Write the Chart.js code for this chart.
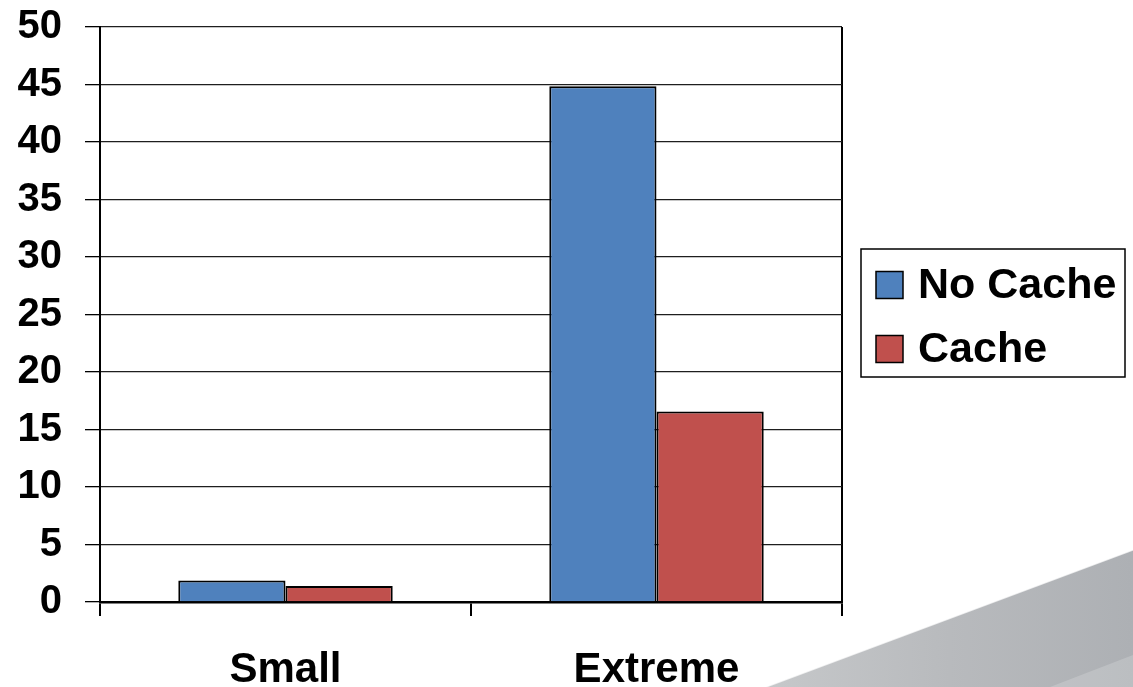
<!DOCTYPE html>
<html>
<head>
<meta charset="utf-8">
<script src="https://cdn.jsdelivr.net/npm/chart.js@4/dist/chart.umd.min.js"></script>
<style>
  html, body { margin: 0; padding: 0; background: #fff; }
  #wrap { width: 1133px; height: 687px; position: relative; }
  canvas { display: block; }
</style>
</head>
<body>
<div id="wrap"><canvas id="c" width="1133" height="687"></canvas></div>
<script>
// Workload sizes along the x axis
const categories = ['Small', 'Extreme'];
// Run times for each series
const noCacheValues = [1.86, 44.85];
const cacheValues = [1.39, 16.56];
const seriesNames = ['No Cache', 'Cache'];
// Value axis ticks
const yTickMin = 0;
const yTickMax = 50;
const yTickStep = 5;

const FONT = "'Liberation Sans', Arial, Helvetica, sans-serif";

// Grey slanted panel in the lower-right corner of the slide
const cornerPanel = {
  id: 'cornerPanel',
  beforeDraw(chart) {
    const ctx = chart.ctx;
    const w = chart.width, h = chart.height;
    ctx.save();
    const g = ctx.createLinearGradient(766, 0, w, 0);
    g.addColorStop(0, '#c6c8ca');
    g.addColorStop(0.5, '#b8babd');
    g.addColorStop(1, '#adb0b4');
    ctx.fillStyle = g;
    ctx.beginPath();
    ctx.moveTo(766, h);
    ctx.lineTo(w, 550);
    ctx.lineTo(w, h);
    ctx.closePath();
    ctx.fill();
    // lighter strip along the bottom-right
    ctx.fillStyle = 'rgba(255,255,255,0.18)';
    ctx.beginPath();
    ctx.moveTo(1050, h);
    ctx.lineTo(w, 655);
    ctx.lineTo(w, h);
    ctx.closePath();
    ctx.fill();
    ctx.strokeStyle = 'rgba(255,255,255,0.7)';
    ctx.lineWidth = 1.5;
    ctx.beginPath();
    ctx.moveTo(766, h);
    ctx.lineTo(w, 550);
    ctx.stroke();
    ctx.restore();
  }
};

// Boxed legend to the right of the plot
const boxedLegend = {
  id: 'boxedLegend',
  afterDraw(chart, args, opts) {
    const ctx = chart.ctx;
    ctx.save();
    ctx.strokeStyle = '#000';
    ctx.lineWidth = 1.5;
    ctx.fillStyle = '#fff';
    ctx.fillRect(opts.x, opts.y, opts.w, opts.h);
    ctx.strokeRect(opts.x, opts.y, opts.w, opts.h);
    ctx.font = 'bold ' + opts.fontSize + 'px ' + FONT;
    ctx.textBaseline = 'middle';
    ctx.textAlign = 'left';
    chart.data.datasets.forEach((ds, i) => {
      const cy = opts.firstRow + i * opts.rowGap;
      const s = opts.swatch;
      ctx.fillStyle = ds.backgroundColor;
      ctx.fillRect(opts.swatchX, cy - s / 2, s, s);
      ctx.strokeStyle = '#000';
      ctx.lineWidth = 1.5;
      ctx.strokeRect(opts.swatchX, cy - s / 2, s, s);
      ctx.fillStyle = '#000';
      ctx.fillText(ds.label, opts.textX, cy + 1);
    });
    ctx.restore();
  }
};

new Chart(document.getElementById('c'), {
  type: 'bar',
  data: {
    labels: categories,
    datasets: [
      {
        label: seriesNames[0],
        data: noCacheValues,
        backgroundColor: '#4f81bd',
        borderColor: '#000',
        borderWidth: 2
      },
      {
        label: seriesNames[1],
        data: cacheValues,
        backgroundColor: '#c0504d',
        borderColor: '#000',
        borderWidth: 2
      }
    ]
  },
  options: {
    responsive: false,
    devicePixelRatio: 1,
    animation: false,
    categoryPercentage: 0.578,
    barPercentage: 1,
    layout: { padding: { top: 27, right: 291, left: 0, bottom: 0 } },
    plugins: {
      legend: { display: false },
      tooltip: { enabled: false },
      boxedLegend: {
        x: 861, y: 249, w: 264, h: 128,
        swatchX: 876, swatch: 27, textX: 918,
        firstRow: 285, rowGap: 64, fontSize: 43
      }
    },
    scales: {
      x: {
        grid: {
          offset: true,
          drawOnChartArea: true,
          color: (c) => c.type === 'scale' ? '#000' : 'rgba(0,0,0,0)',
          tickColor: '#000',
          tickLength: 14,
          lineWidth: 2
        },
        border: { display: true, color: '#000', width: 2.5 },
        ticks: {
          color: '#000',
          font: { family: FONT, size: 42, weight: 'bold' },
          padding: 29
        },
        afterFit(s) { s.height = 85; s.paddingLeft = 0; s.paddingRight = 0; }
      },
      y: {
        min: yTickMin,
        max: yTickMax,
        ticks: {
          stepSize: yTickStep,
          color: '#000',
          font: { family: FONT, size: 40, weight: 'bold' },
          padding: 23
        },
        grid: {
          color: '#1e1e1e',
          lineWidth: 1.3,
          tickColor: '#000',
          tickLength: 15
        },
        border: { display: true, color: '#000', width: 2 },
        afterFit(s) { s.width = 100; s.paddingTop = 0; s.paddingBottom = 0; }
      }
    }
  },
  plugins: [cornerPanel, boxedLegend]
});
</script>
</body>
</html>
